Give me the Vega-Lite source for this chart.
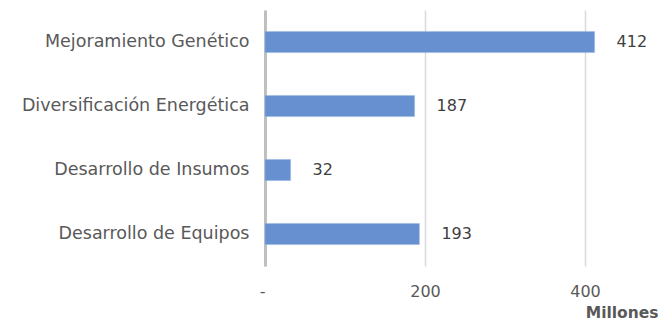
{
  "$schema": "https://vega.github.io/schema/vega-lite/v6.json",
  "width": 400,
  "height": 256,
  "autosize": "none",
  "padding": {"left": 265, "top": 10, "right": 4, "bottom": 65},
  "background": "white",
  "config": {
    "view": {"stroke": null},
    "font": "DejaVu Sans"
  },
  "data": {
    "values": [
      {"area": "Mejoramiento Genético", "monto": 412},
      {"area": "Diversificación Energética", "monto": 187},
      {"area": "Desarrollo de Insumos", "monto": 32},
      {"area": "Desarrollo de Equipos", "monto": 193}
    ]
  },
  "encoding": {
    "y": {
      "field": "area",
      "type": "nominal",
      "sort": null,
      "scale": {"paddingInner": 0.67, "paddingOuter": 0.335},
      "axis": {
        "title": null,
        "ticks": false,
        "domainColor": "#bfbfbf",
        "domainWidth": 3,
        "labelFontSize": 17.5,
        "labelColor": "#595959",
        "labelPadding": 16,
        "labelLimit": 300
      }
    },
    "x": {
      "field": "monto",
      "type": "quantitative",
      "scale": {"domain": [0, 500], "nice": false},
      "axis": {
        "values": [0, 200, 400],
        "labelExpr": "datum.value == 0 ? '-' : datum.label",
        "labelAlign": {"condition": {"test": "datum.value == 0", "value": "right"}, "value": "center"},
        "domain": false,
        "ticks": false,
        "gridColor": "#d9d9d9",
        "gridWidth": 1.5,
        "labelFontSize": 16,
        "labelColor": "#595959",
        "labelPadding": 17,
        "title": "Millones",
        "titleFontSize": 15.5,
        "titleFontWeight": "bold",
        "titleColor": "#595959",
        "titleAnchor": "end",
        "titleX": 393,
        "titlePadding": 6
      }
    }
  },
  "layer": [
    {
      "mark": {"type": "bar", "color": "#6690cf", "stroke": "#9fb9e3", "strokeWidth": 0.5}
    },
    {
      "mark": {"type": "text", "align": "left", "baseline": "middle", "dx": 22, "fontSize": 16, "color": "#404040"},
      "encoding": {"text": {"field": "monto", "type": "quantitative"}}
    }
  ]
}
